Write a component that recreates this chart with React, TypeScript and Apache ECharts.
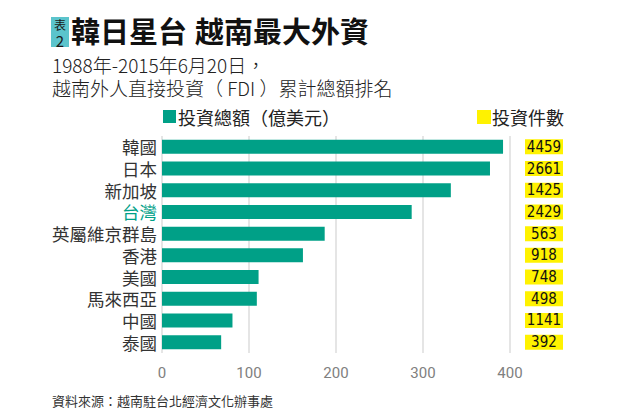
import React, { useEffect, useRef } from "react";
import * as echarts from "echarts";

const categories = ["韓國", "日本", "新加坡", "台灣", "英屬維京群島", "香港", "美國", "馬來西亞", "中國", "泰國"];
const totals = [392, 377, 332, 287, 187, 162, 111, 109, 81, 68];
const counts = [4459, 2661, 1425, 2429, 563, 918, 748, 498, 1141, 392];
const xTicks = { min: 0, max: 400, interval: 100 };

const TEAL = "#00a087";
const YELLOW = "#fff200";
const CJK = '"Noto Sans CJK TC", "Noto Sans CJK SC", sans-serif';
const NUM = '"Roboto", "DejaVu Sans", sans-serif';
const NARROW = '"Liberation Sans Narrow", "DejaVu Sans Condensed", "Roboto", sans-serif';

export default function App() {
  const ref = useRef<HTMLDivElement>(null);
  useEffect(() => {
    document.body.style.margin = "0";
    const chart = echarts.init(ref.current!, null, { renderer: "svg" });
    chart.setOption({
      animation: false,
      backgroundColor: "#ffffff",
      grid: { left: 162, right: 110, top: 136, height: 217, containLabel: false },
      xAxis: {
        type: "value",
        min: xTicks.min,
        max: xTicks.max,
        interval: xTicks.interval,
        axisLine: { show: false },
        axisTick: { show: false },
        splitLine: { show: true, lineStyle: { color: "#dcdcdc", width: 1.5 } },
        axisLabel: { color: "#808080", fontSize: 15, fontFamily: NUM, margin: 12 },
      },
      yAxis: [
        {
          type: "category",
          data: categories,
          inverse: true,
          axisLine: { show: false },
          axisTick: { show: false },
          axisLabel: {
            interval: 0,
            fontSize: 17.5,
            lineHeight: 20,
            fontFamily: CJK,
            margin: 5,
            color: (v: string) => (v === "台灣" ? TEAL : "#333333"),
          },
        },
        {
          type: "category",
          data: counts.map(String),
          inverse: true,
          position: "right",
          axisLine: { show: false },
          axisTick: { show: false },
          axisLabel: {
            interval: 0,
            margin: 15,
            formatter: (v: string) => `{a|${v}}`,
            rich: {
              a: {
                backgroundColor: YELLOW,
                width: 38,
                height: 15,
                lineHeight: 15,
                align: "center",
                fontSize: 15,
                fontWeight: "normal",
                fontFamily: NARROW,
                color: "#111111",
              },
            },
          },
        },
      ],
      series: [
        {
          type: "bar",
          name: "投資總額（億美元）",
          data: totals,
          barWidth: 14,
          itemStyle: { color: TEAL },
          yAxisIndex: 0,
        },
      ],
      graphic: [
        { type: "rect", shape: { x: 51, y: 17, width: 18, height: 30 }, style: { fill: "#5bc4cc" } },
        { type: "text", style: { text: "表", x: 60, y: 24, fill: "#1a1a1a", font: `12px ${CJK}`, align: "center", verticalAlign: "middle" } },
        { type: "text", style: { text: "2", x: 60, y: 40, fill: "#1a1a1a", font: `15px ${CJK}`, align: "center", verticalAlign: "middle" } },
        { type: "text", style: { text: "韓日星台", x: 71, y: 30, fill: "#111111", font: `bold 29px ${CJK}`, align: "left", verticalAlign: "middle" } },
        { type: "text", style: { text: "越南最大外資", x: 195, y: 30, fill: "#111111", font: `bold 29px ${CJK}`, align: "left", verticalAlign: "middle" } },
        { type: "text", style: { text: "1988年-2015年6月20日，", x: 52, y: 64, fill: "#222222", font: `300 19px ${CJK}`, align: "left", verticalAlign: "middle" } },
        { type: "text", style: { text: "越南外人直接投資（ FDI ）累計總額排名", x: 52, y: 87, fill: "#222222", font: `300 19px ${CJK}`, align: "left", verticalAlign: "middle" } },
        { type: "rect", shape: { x: 163, y: 110, width: 13, height: 13 }, style: { fill: TEAL } },
        { type: "text", style: { text: "投資總額（億美元）", x: 178, y: 117, fill: "#222222", font: `18px ${CJK}`, align: "left", verticalAlign: "middle" } },
        { type: "rect", shape: { x: 477, y: 110, width: 14, height: 14 }, style: { fill: YELLOW } },
        { type: "text", style: { text: "投資件數", x: 492, y: 117, fill: "#222222", font: `18px ${CJK}`, align: "left", verticalAlign: "middle" } },
        { type: "text", style: { text: "資料來源：越南駐台北經濟文化辦事處", x: 52, y: 400, fill: "#333333", font: `13px ${CJK}`, align: "left", verticalAlign: "middle" } },
      ],
    });
    return () => chart.dispose();
  }, []);
  return <div ref={ref} style={{ position: "absolute", left: 0, top: 0, width: 620, height: 415 }} />;
}
